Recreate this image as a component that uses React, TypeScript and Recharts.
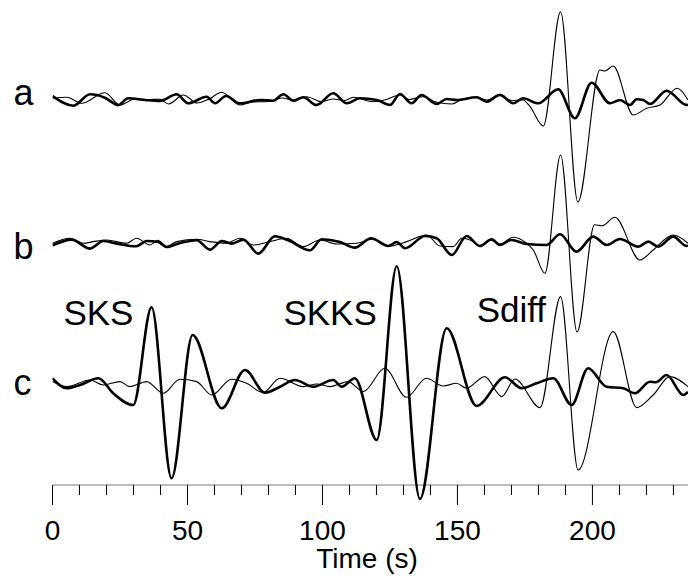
import { LineChart, Line, XAxis, YAxis, ReferenceLine } from "recharts";

// seismogram traces: [time (s), amplitude] read at peaks, troughs and crossings
const aThick: [number, number][] = [
  [0, 4], [7.7, -5.7], [13.9, 5.7], [19.4, 2.3], [24.4, -5], [28, 1.7], [34.3, 0], [39.8, -1],
  [46, 5.7], [50.3, -3.3], [57.1, 3.3], [60.2, -3.3], [64.3, 4], [69.4, -3.3], [76.9, 0], [81.7, -0.7],
  [85.5, 5.7], [89.2, -0.7], [92.9, 2.7], [97.8, -5], [104, 6.7], [109, -3.3], [113.9, 1.7], [120.1, 0],
  [125, -5], [128.7, 6], [133, -3.3], [136.7, 5], [142.3, -4], [146, 1], [149.7, 0], [157.1, 2.7],
  [160.8, -1.7], [165.7, 5], [170.7, -3.3], [174.3, 1.7], [179.9, -3.3], [187.3, 10.7], [193.5, -18.3],
  [199.7, 17.3], [206.5, -3.3], [210.2, 0], [213.9, -5], [216.4, 0.7], [218.8, 0], [221.3, -4],
  [227.5, 9.3], [234.9, -5], [235.4, -4.5],
];
const aThin: [number, number][] = [
  [0, 1.7], [5.3, 2.7], [10.8, -3.3], [19.4, 7.3], [25, -5], [30.5, 1], [36, 0.5], [39.8, 0.7],
  [43, -4], [48.5, 5], [53.5, -3], [58, 1], [62.7, 7.7], [69.4, -5], [74, -2], [80, -1.5], [85, 2],
  [89, 0], [94.1, 3.3], [99.7, -1.7], [104, 1], [108, -0.5], [111.4, 2.7], [118.8, -1.7], [123, 0],
  [128.7, 5], [132, 0.5], [137.3, 3.3], [142, -2], [148, -4], [151.7, 0.7], [157.1, 2.7], [161, 0],
  [165.7, 5.7], [170, -0.5], [174.3, 0], [176.9, -6.7], [181.8, -26], [188.2, 88.3], [194.6, -102],
  [202.8, 30], [204.6, 29], [207.7, 34], [215.1, -15], [220.1, -8.3], [225, -5], [231.4, 11.7],
  [235.4, 0],
];
const bThick: [number, number][] = [
  [0, -2], [7.1, 3.7], [13.9, -5.3], [18.8, 2.3], [23.8, -0.3], [31, -3], [34.9, 2.3], [39.2, 1.3],
  [42.3, -3.7], [47.2, 0.3], [53.4, 3], [58.3, -6.3], [62.7, 2.3], [66.4, -0.3], [70.7, 3.7],
  [76.2, -10.3], [82.4, 7], [87.3, 3], [95.4, -7], [99.7, 4], [106.5, 1.3], [112, -4.3], [118, 5],
  [124.4, -2.7], [127.5, 1.3], [130.6, -5], [138, 7.3], [142.3, 5], [147.9, -11.7], [153.4, 7.3],
  [158.3, -2.7], [162.7, 4], [165.7, -1.7], [170, 3.3], [175.6, -0.7], [183, -1.7], [188, 9],
  [194.1, -8.3], [200.3, 6.7], [205.3, -1.7], [210.2, 4.3], [217, -3.3], [220.7, 1.7], [224.4, -3.3],
  [229.9, 6.7], [234.9, -2.7], [235.4, -2],
];
const bThin: [number, number][] = [
  [0, 0], [6.5, 5], [11.4, 0], [15.1, 1.7], [20.1, 3.3], [27.5, 0], [31.1, 5], [36.1, -1.7], [39, 3],
  [42.3, -3.3], [46, 1.7], [53.4, 4], [58.3, 1.7], [64.4, 0], [69.4, 5], [74.4, -1.7], [80.6, 1.7],
  [86.7, 5], [92.9, -3.3], [99.1, 3.3], [105.3, -0.7], [112.7, 0], [118.5, 4], [125, -2.7],
  [131.2, 1.7], [138.6, 8.3], [143.5, -2.7], [148.4, -3.3], [151.6, 5], [155.8, 1.7], [158.3, -2.7],
  [162, 3.3], [165.7, -0.7], [170.7, 6], [175.6, 0], [178.1, -6.7], [182.4, -30], [188.2, 88.3],
  [194.3, -88.7], [200.8, 18.5], [203.5, 17.5], [208.3, 26], [217.6, -16.7], [222.5, -6.7],
  [229.9, 8.3], [235.4, 0],
];
const cThick: [number, number][] = [
  [0, 5], [5.3, -5], [10.2, -1.7], [17, 5], [22.5, -10], [29.9, -21.7], [36.7, 76], [44.1, -95],
  [51.9, 48.3], [62.7, -25], [71.3, 13.3], [78.7, -9.4], [84.3, -3.4], [89.8, 3.3], [96.6, -3.4],
  [104, 3.3], [107.1, -3.4], [112, 5], [120.1, -56.7], [127.5, 117], [136.1, -115.7], [146, 55],
  [157.1, -22.7], [167.6, 6], [173.8, -5], [179.3, 0], [185.5, 5], [192.3, -21.7], [198.4, 15],
  [205.2, -3.4], [211.4, -5], [215.7, -10], [221.3, 1.5], [223.5, 1], [227.5, 8.3], [233.6, -11.7],
  [235.4, -8.7],
];
const cThin: [number, number][] = [
  [0, 1.7], [5.3, -3.3], [13.9, 3.3], [18.8, -1.7], [25, 1.7], [28.6, -3.3], [34.9, 1.7], [41, -10],
  [47.2, 4], [53.4, 1.7], [59, -11.7], [66.3, 4], [71.9, 0], [78, -9.3], [84.3, 5], [92.9, -3.3],
  [97.9, -0.7], [102.8, -3.3], [109.5, 1.7], [115.1, -8.3], [123.1, 15], [131.1, -14], [138.5, 5],
  [144.7, -2.7], [149.7, 0], [153.3, -5], [160.1, 6.7], [166.4, -13.3], [171.3, 4.3], [180.6, -24.3],
  [188.2, 86.7], [194.7, -86.7], [207.7, 51.7], [216.4, -24.3], [222.5, -11.7], [228.7, 6.7],
  [235.4, -3.3],
];

const rowLabels = ["a", "b", "c"];
const phases = ["SKS", "SKKS", "Sdiff"];
const ticks = [0, 10, 20, 30, 40, 50, 60, 70, 80, 90, 100, 110, 120, 130, 140, 150, 160, 170, 180, 190, 200, 210, 220, 230];

const W = 688;
const H = 580;
const DROP = 15; // y-axis room below the time axis so big troughs can cross it
const TOP = 485;
const offsets = [385, 241.7, 101.7];
const font = "'Liberation Sans', Arial, Helvetica, sans-serif";

const shift = (pts: [number, number][], off: number) => pts.map(([t, v]) => ({ t, y: v + off }));

const rows = [
  { thick: shift(aThick, offsets[0]), thin: shift(aThin, offsets[0]) },
  { thick: shift(bThick, offsets[1]), thin: shift(bThin, offsets[1]) },
  { thick: shift(cThick, offsets[2]), thin: shift(cThin, offsets[2]) },
];

function TimeTick({ x, y, payload }: any) {
  const major = payload.value % 50 === 0;
  const top = y - DROP;
  return (
    <g>
      <line x1={x} x2={x} y1={top} y2={top + (major ? 20 : 10)} stroke="#000" strokeWidth={1} />
      {major && (
        <text x={x} y={top + 55} textAnchor="middle" fontSize={28} fontFamily={font} fill="#000">
          {payload.value}
        </text>
      )}
    </g>
  );
}

export default function App() {
  return (
    <div style={{ position: "absolute", left: 0, top: 0, width: W, height: H, background: "#fff" }}>
      <LineChart width={W} height={H} margin={{ top: 0, right: 0, bottom: 0, left: 52.5 }}>
        <XAxis
          dataKey="t"
          type="number"
          domain={[0, 235.4]}
          allowDataOverflow
          ticks={ticks}
          interval={0}
          height={80}
          axisLine={false}
          tickLine={false}
          tickSize={0}
          tickMargin={0}
          tick={<TimeTick />}
        />
        <YAxis hide type="number" domain={[-DROP, TOP]} />
        <ReferenceLine y={0} stroke="#7a7a7a" strokeWidth={1} />
        {rows.map((r, i) => (
          <Line
            key={"thin" + i}
            data={r.thin}
            dataKey="y"
            type="monotone"
            stroke="#000"
            strokeWidth={1.1}
            dot={false}
            activeDot={false}
            isAnimationActive={false}
          />
        ))}
        {rows.map((r, i) => (
          <Line
            key={"thick" + i}
            data={r.thick}
            dataKey="y"
            type="monotone"
            stroke="#000"
            strokeWidth={2.6}
            dot={false}
            activeDot={false}
            isAnimationActive={false}
          />
        ))}
      </LineChart>
      <svg width={W} height={H} style={{ position: "absolute", left: 0, top: 0, pointerEvents: "none" }}>
        <g fontFamily={font} fill="#000">
          <text x={13.5} y={105} fontSize={36}>{rowLabels[0]}</text>
          <text x={13.5} y={259} fontSize={36}>{rowLabels[1]}</text>
          <text x={13.5} y={395} fontSize={36}>{rowLabels[2]}</text>
          <text x={63.4} y={325} fontSize={35}>{phases[0]}</text>
          <text x={283.4} y={325} fontSize={35}>{phases[1]}</text>
          <text x={476.7} y={322} fontSize={35}>{phases[2]}</text>
          <text x={367} y={568} fontSize={28} textAnchor="middle">Time (s)</text>
        </g>
      </svg>
    </div>
  );
}
